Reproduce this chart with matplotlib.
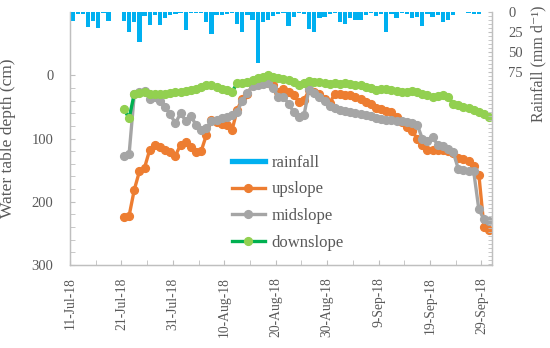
import numpy as np
import pandas as pd
import matplotlib
matplotlib.use("Agg")
import matplotlib.pyplot as plt
import matplotlib.dates as mdates
from matplotlib.lines import Line2D
from matplotlib.ticker import FixedLocator

# ---------------- data ----------------
rain_start = "2018-07-11"
rainfall = [11, 2.5, 3, 19, 11, 20, 1, 11, 0, 0,
            11, 25, 12, 37, 5, 16, 4, 16, 7, 4,
            2, 1, 22, 1, 1, 1, 12, 27, 4, 4,
            2, 1, 15, 25, 4, 10, 64, 12, 10, 5,
            2, 1, 18, 6, 1, 2, 21, 25, 8, 6,
            2, 1, 13, 15, 8, 10, 10, 3.5, 1.7, 5,
            2, 25, 2, 7, 1, 2, 7, 6, 17.5, 2,
            6, 4, 13, 10, 4, 0, 0, 1, 2, 2.5,
            0, 0]

wt_start = "2018-07-21"
upslope = [224, 222, 181, 152, 146, 118, 110, 114, 118, 122,
           127, 110, 105, 113, 122, 120, 95, 71, 74, 77,
           79, 87, 55, 37, 29, 16, 13, 12, 13, 16,
           26, 21, 27, 32, 42, 39, 24, 26, 30, 37,
           44, 29, 30, 31, 32, 35, 38, 42, 46, 52,
           54, 57, 58, 66, 74, 82, 88, 100, 110, 118,
           118, 118, 118, 120, 123, 131, 133, 135, 144, 157,
           240, 244]
midslope = [128, 124, 30, 27, 25, 37, 34, 40, 50, 62,
            76, 60, 72, 65, 78, 86, 84, 72, 70, 68,
            66, 63, 58, 40, 28, 17, 15, 14, 13, 20,
            34, 34, 45, 58, 66, 63, 21, 28, 34, 40,
            48, 52, 55, 56, 58, 60, 62, 63, 65, 67,
            69, 70, 71, 72, 73, 74, 76, 78, 100, 104,
            98, 110, 112, 116, 121, 148, 150, 151, 152, 212,
            228, 231]
downslope = [54, 68, 29, 28, 27, 29, 30, 30, 29, 28,
             27, 26, 25, 23, 22, 18, 15, 16, 18, 21,
             23, 26, 13, 12, 10, 7, 5, 3, 0, 2,
             4, 6, 8, 10, 15, 13, 9, 10, 11, 13,
             14, 13, 14, 13, 14, 15, 16, 18, 20, 23,
             22, 21, 23, 25, 26, 26, 25, 26, 29, 31,
             34, 33, 31, 34, 45, 47, 50, 52, 55, 58,
             62, 66]

tick_dates = ["2018-07-11", "2018-07-21", "2018-07-31", "2018-08-10", "2018-08-20",
              "2018-08-30", "2018-09-09", "2018-09-19", "2018-09-29"]
tick_labels = ["11-Jul-18", "21-Jul-18", "31-Jul-18", "10-Aug-18", "20-Aug-18",
               "30-Aug-18", "9-Sep-18", "19-Sep-18", "29-Sep-18"]

# ---------------- style ----------------
FONT = ["Liberation Serif", "DejaVu Serif"]
TXT = "#595959"
SPINE = "#BFBFBF"
C_RAIN = "#00B0F0"
C_UP = "#ED7D31"
C_MID = "#A5A5A5"
C_DOWN_LINE = "#00B050"
C_DOWN_MK = "#92D050"
plt.rcParams["font.family"] = FONT

fig = plt.figure(figsize=(5.5, 3.48), dpi=100)
L, R, T, B = 70, 491.7, 12, 265
W, H = 550, 348
ax = fig.add_axes([L / W, 1 - B / H, (R - L) / W, (B - T) / H])
ax2 = ax.twinx()

rain_x = mdates.date2num(pd.date_range(rain_start, periods=len(rainfall))) + 0.5
wt_x = mdates.date2num(pd.date_range(wt_start, periods=len(upslope))) + 0.5

# rainfall bars hanging from top
ax2.bar(rain_x, rainfall, width=0.85, color=C_RAIN, zorder=2)

lw = 2.4
ms = 5.6
ax.plot(wt_x, upslope, color=C_UP, lw=lw, marker="o", ms=ms, mfc=C_UP, mec=C_UP, zorder=3)
ax.plot(wt_x, midslope, color=C_MID, lw=lw, marker="o", ms=ms, mfc=C_MID, mec=C_MID, zorder=3)
ax.plot(wt_x, downslope, color=C_DOWN_LINE, lw=lw, marker="o", ms=ms, mfc=C_DOWN_MK,
        mec=C_DOWN_MK, zorder=4)

x0 = mdates.date2num(pd.Timestamp("2018-07-11"))
x1 = mdates.date2num(pd.Timestamp("2018-10-01"))
ax.set_xlim(x0, x1)
ax.set_ylim(300, -100)
ax2.set_ylim(316, 0)

# x ticks
tx = mdates.date2num(pd.to_datetime(tick_dates))
ax.set_xticks(tx, tick_labels, rotation=90, fontsize=9.8, color=TXT)
ax.xaxis.set_minor_locator(FixedLocator(tx[:-1] + 5))
ax.tick_params(axis="x", which="both", direction="in", length=3.5, color=SPINE, pad=9)

# left y ticks
ax.set_yticks([0, 100, 200, 300])
ax.set_yticklabels(["0", "100", "200", "300"], fontsize=10.5, color=TXT)
ax.yaxis.set_minor_locator(FixedLocator(np.arange(0, 301, 20)))
ax.tick_params(axis="y", which="both", direction="in", length=3.5, color=SPINE, pad=12)

# right y ticks
ax2.set_yticks([0, 25, 50, 75])
ax2.set_yticklabels(["0", "25", "50", "75"], fontsize=10.5, color=TXT)
ax2.yaxis.set_minor_locator(FixedLocator(np.arange(0, 316, 5)))
ax2.tick_params(axis="y", which="both", direction="in", length=3, color=SPINE, pad=12)

for a in (ax, ax2):
    a.spines["top"].set_visible(False)
    for s in ("left", "right", "bottom"):
        a.spines[s].set_color(SPINE)
        a.spines[s].set_linewidth(0.9)

ax.set_ylabel("Water table depth (cm)", fontsize=12.5, color=TXT)
ax.yaxis.set_label_coords(-0.128, 0.5)
ax2.set_ylabel("Rainfall (mm d\u207b\u00b9)", fontsize=11.5, color=TXT, va="center")
ax2.yaxis.set_label_coords(1.11, 0.795)

handles = [
    Line2D([], [], color=C_RAIN, lw=3.8),
    Line2D([], [], color=C_UP, lw=lw, marker="o", ms=ms, mfc=C_UP, mec=C_UP),
    Line2D([], [], color=C_MID, lw=lw, marker="o", ms=ms, mfc=C_MID, mec=C_MID),
    Line2D([], [], color=C_DOWN_LINE, lw=lw, marker="o", ms=ms, mfc=C_DOWN_MK, mec=C_DOWN_MK),
]
labels = ["rainfall", "upslope", "midslope", "downslope"]
leg = ax2.legend(handles, labels, loc="center left",
                 bbox_to_anchor=(231.7 / W, 1 - 202.8 / H), bbox_transform=fig.transFigure,
                 frameon=False, fontsize=12, handlelength=2.0, handletextpad=0.4,
                 labelspacing=0.65, borderpad=0, borderaxespad=0)
for t in leg.get_texts():
    t.set_color(TXT)

fig.savefig("out.png", dpi=100)
